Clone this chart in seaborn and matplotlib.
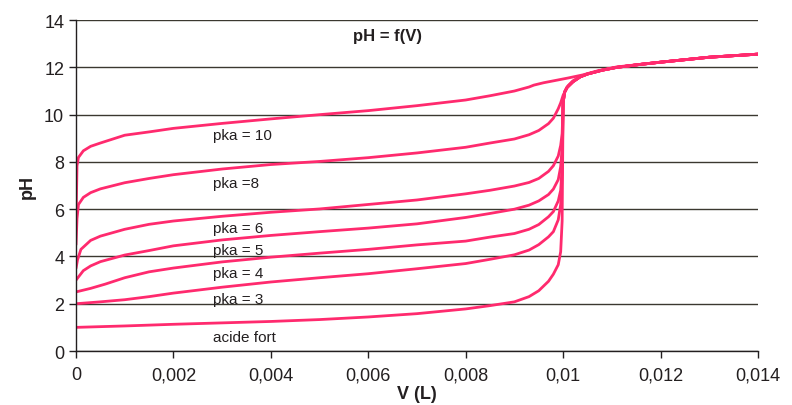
import pandas as pd
import numpy as np
import matplotlib
matplotlib.use("Agg")
import matplotlib.pyplot as plt
import seaborn as sns

# Courbes de dosage
v_fort = [0, 0.001, 0.002, 0.003, 0.004, 0.005, 0.006, 0.007, 0.008, 0.0085, 0.009,
          0.0093, 0.0095, 0.0097, 0.0098, 0.0099, 0.00995, 0.00998, 0.01]
ph_fort = [1.0, 1.06, 1.13, 1.19, 1.25, 1.33, 1.44, 1.58, 1.78, 1.92, 2.08,
           2.3, 2.55, 2.95, 3.25, 3.65, 4.2, 5.5, 10.5]

v_pka3 = [0, 0.0005, 0.001, 0.0015, 0.002, 0.003, 0.004, 0.005, 0.006, 0.007, 0.008,
          0.0085, 0.009, 0.0093, 0.0095, 0.0097, 0.0098, 0.0099, 0.00995, 0.00998, 0.01]
ph_pka3 = [2.0, 2.08, 2.17, 2.3, 2.45, 2.7, 2.92, 3.1, 3.27, 3.48, 3.7,
           3.88, 4.07, 4.27, 4.5, 4.83, 5.05, 5.55, 6.2, 7.5, 10.5]

v_pka4 = [0, 0.0003, 0.0006, 0.001, 0.0015, 0.002, 0.003, 0.004, 0.005, 0.006, 0.007,
          0.008, 0.0085, 0.009, 0.0093, 0.0095, 0.0097, 0.0098, 0.0099, 0.00995, 0.00998, 0.01]
ph_pka4 = [2.5, 2.65, 2.83, 3.1, 3.35, 3.51, 3.77, 3.97, 4.14, 4.3, 4.49,
           4.65, 4.82, 4.97, 5.15, 5.35, 5.68, 5.9, 6.35, 6.8, 7.8, 10.5]

v_pka5 = [0, 0.00015, 0.0003, 0.0005, 0.001, 0.0015, 0.002, 0.003, 0.004, 0.005, 0.006,
          0.007, 0.008, 0.0085, 0.009, 0.0093, 0.0095, 0.0097, 0.0098, 0.0099, 0.00995,
          0.00998, 0.01]
ph_pka5 = [3.0, 3.4, 3.6, 3.78, 4.06, 4.25, 4.45, 4.7, 4.89, 5.05, 5.2,
           5.38, 5.65, 5.82, 6.0, 6.17, 6.35, 6.62, 6.85, 7.25, 7.8,
           8.6, 10.5]

v_pka6 = [0, 0.00003, 0.0001, 0.0003, 0.0005, 0.001, 0.0015, 0.002, 0.003, 0.004, 0.005,
          0.006, 0.007, 0.008, 0.0085, 0.009, 0.0093, 0.0095, 0.0097, 0.0098, 0.0099,
          0.00995, 0.00998, 0.01]
ph_pka6 = [3.5, 3.85, 4.3, 4.68, 4.86, 5.15, 5.36, 5.5, 5.7, 5.87, 6.01,
           6.2, 6.39, 6.65, 6.8, 6.98, 7.13, 7.3, 7.6, 7.84, 8.25,
           8.7, 9.2, 10.5]

v_pka8 = [0, 0.00002, 0.00005, 0.00015, 0.0003, 0.0005, 0.001, 0.0015, 0.002, 0.003, 0.004,
          0.005, 0.006, 0.007, 0.008, 0.0085, 0.009, 0.0093, 0.0095, 0.0097, 0.0098,
          0.0099, 0.00995, 0.01, 0.0101, 0.0102]
ph_pka8 = [4.5, 5.6, 6.2, 6.5, 6.7, 6.86, 7.12, 7.3, 7.46, 7.7, 7.89,
           8.02, 8.18, 8.38, 8.62, 8.8, 8.97, 9.15, 9.33, 9.62, 9.85,
           10.25, 10.5, 10.82, 11.22, 11.43]

v_pka10 = [0, 0.00002, 0.00005, 0.00015, 0.0003, 0.0005, 0.001, 0.0015, 0.002, 0.003, 0.004,
           0.005, 0.006, 0.007, 0.008, 0.0085, 0.009, 0.0093, 0.0094, 0.0096, 0.0098,
           0.0101, 0.0104, 0.0107, 0.0111]
ph_pka10 = [5.5, 7.84, 8.19, 8.47, 8.66, 8.8, 9.13, 9.27, 9.42, 9.63, 9.82,
            10.0, 10.17, 10.38, 10.62, 10.8, 11.0, 11.17, 11.25, 11.35, 11.43,
            11.55, 11.68, 11.85, 12.02]

# partie commune après l'équivalence
v_apres = [0.01003, 0.01008, 0.0102, 0.01035, 0.0105, 0.0108, 0.0111, 0.0116, 0.012, 0.013, 0.014]
ph_apres = [10.95, 11.15, 11.39, 11.6, 11.72, 11.88, 12.0, 12.13, 12.22, 12.43, 12.56]

noms = ["acide fort", "pka = 3", "pka = 4", "pka = 5", "pka = 6", "pka =8", "pka = 10"]
x_ticks_labels = ["0", "0,002", "0,004", "0,006", "0,008", "0,01", "0,012", "0,014"]

courbes = [(v_fort, ph_fort), (v_pka3, ph_pka3), (v_pka4, ph_pka4), (v_pka5, ph_pka5),
           (v_pka6, ph_pka6), (v_pka8, ph_pka8), (v_pka10, ph_pka10)]

lignes = []
for nom, (v, ph) in zip(noms, courbes):
    vv = list(v) + [a for a in v_apres if a > v[-1]]
    pp = list(ph) + [b for a, b in zip(v_apres, ph_apres) if a > v[-1]]
    lignes.append(pd.DataFrame({"V": vv, "pH": pp, "courbe": nom}))
df = pd.concat(lignes, ignore_index=True)

sns.set_style("ticks")
plt.rcParams["font.family"] = ["Liberation Sans", "DejaVu Sans"]
texte = "#231f20"
rose = "#ff2a6e"

fig = plt.figure(figsize=(7.92, 4.06), dpi=100)
ax = fig.add_axes([0.096, 0.133, 0.861, 0.815])

sns.lineplot(data=df, x="V", y="pH", units="courbe", estimator=None, sort=False,
             color=rose, lw=2.0, ax=ax)

ax.set_xlim(0, 0.014)
ax.set_ylim(0, 14)
ax.set_xticks(np.arange(0, 0.0141, 0.002))
ax.set_xticklabels(x_ticks_labels)
ax.set_yticks(np.arange(0, 15, 2))
ax.yaxis.grid(True, color="#3b3830", lw=1.0)
ax.set_axisbelow(True)
for s in ["top", "right"]:
    ax.spines[s].set_visible(False)
for s in ["left", "bottom"]:
    ax.spines[s].set_color(texte)
    ax.spines[s].set_linewidth(1.0)
ax.tick_params(axis="both", colors=texte, labelsize=13, length=5, width=1, direction="out")
ax.tick_params(axis="x", pad=6)

ax.set_xlabel("V (L)", fontsize=13, fontweight="bold", color=texte, labelpad=1)
ax.set_ylabel("pH", fontsize=13, fontweight="bold", color=texte, labelpad=6)

ax.text(0.0064, 13.37, "pH = f(V)", fontsize=12, fontweight="bold", color=texte,
        ha="center", va="center")

pos_y = [0.6, 2.2, 3.3, 4.27, 5.2, 7.1, 9.14]
for nom, y in zip(noms, pos_y):
    ax.text(0.00281, y, nom, fontsize=11, color=texte, ha="left", va="center")

plt.savefig("out.png", dpi=100)
